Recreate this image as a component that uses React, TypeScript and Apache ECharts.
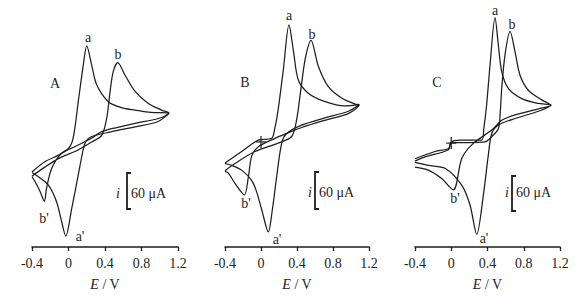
import React, { useEffect, useRef } from "react";
import * as echarts from "echarts";

// Potential ticks (V)
const xTicks = [-0.4, 0, 0.4, 0.8, 1.2];

// Panel A — [E (V), i (µA)], closed loops
const A_curveA: [number, number][] = [
  [-0.4, -48], [-0.26, -31], [-0.11, -20], [0.0, -9], [0.04, 2], [0.07, 25], [0.107, 69], [0.162, 130], [0.2, 162],
  [0.254, 130], [0.309, 97], [0.436, 69], [0.58, 59], [0.729, 55], [0.9, 51], [1.1, 50],
  [0.984, 36], [0.729, 27], [0.473, 19], [0.254, 11], [0.19, 3], [0.162, -10], [0.107, -53], [0.035, -109], [-0.03, -155],
  [-0.075, -131], [-0.13, -98], [-0.22, -70], [-0.33, -56], [-0.4, -49],
];
const A_curveB: [number, number][] = [
  [-0.4, -55], [-0.26, -40], [-0.1, -25], [0.07, -14], [0.254, 2], [0.364, 13], [0.418, 41], [0.455, 85], [0.49, 119], [0.54, 134],
  [0.62, 113], [0.73, 86], [0.875, 66], [1.02, 55], [1.1, 50],
  [0.984, 41], [0.729, 33], [0.473, 24], [0.35, 18], [0.25, 8], [0.07, -6], [-0.075, -17], [-0.184, -42], [-0.24, -75], [-0.265, -97],
  [-0.31, -81], [-0.367, -64], [-0.4, -56],
];

// Panel B
const B_curveA: [number, number][] = [
  [-0.4, -35], [-0.215, -16], [-0.03, 3], [0.118, 6], [0.15, 20], [0.19, 53], [0.248, 120], [0.311, 195],
  [0.359, 153], [0.415, 103], [0.526, 81], [0.711, 67], [0.933, 60], [1.09, 62],
  [0.97, 51], [0.711, 40], [0.452, 28], [0.285, 14], [0.23, -2], [0.174, -58], [0.126, -113], [0.081, -150],
  [0.008, -113], [-0.085, -69], [-0.215, -47], [-0.344, -38], [-0.4, -36],
];
const B_curveB: [number, number][] = [
  [-0.4, -48], [-0.29, -36], [-0.067, -16], [0.19, -2], [0.341, 9], [0.396, 37], [0.452, 98], [0.496, 142], [0.556, 169],
  [0.637, 126], [0.748, 92], [0.896, 73], [1.044, 63], [1.09, 62],
  [0.97, 47], [0.711, 36], [0.452, 24], [0.3, 15], [0.156, 6], [-0.03, -8], [-0.104, -24], [-0.14, -58], [-0.185, -88],
  [-0.289, -69], [-0.363, -52], [-0.4, -49],
];

// Panel C
const C_curveA: [number, number][] = [
  [-0.4, -26], [-0.18, -14], [-0.03, -9], [0.0, 2], [0.1, 5], [0.336, 5], [0.36, 25], [0.39, 63], [0.428, 130], [0.483, 209],
  [0.52, 163], [0.557, 119], [0.63, 91], [0.778, 74], [0.961, 66], [1.1, 63],
  [0.961, 53], [0.704, 41], [0.52, 30], [0.447, 16], [0.409, -20], [0.354, -87], [0.281, -152],
  [0.207, -103], [0.115, -70], [-0.069, -42], [-0.253, -37], [-0.4, -32],
];
const C_curveB: [number, number][] = [
  [-0.4, -30], [-0.29, -23], [-0.03, -11], [0.0, 1], [0.2, 1], [0.373, 2], [0.447, 11], [0.52, 24], [0.54, 50], [0.557, 91],
  [0.593, 147], [0.649, 186], [0.704, 152], [0.759, 113], [0.85, 88], [0.998, 72], [1.1, 63],
  [0.961, 57], [0.704, 47], [0.557, 38], [0.464, 24], [0.226, -3], [0.115, -26], [0.023, -78],
  [-0.106, -59], [-0.253, -45], [-0.4, -40],
];

const panelLetters = ["A", "B", "C"];
const peakLabels = ["a", "b", "a'", "b'"];
const scaleText = "60 μA";

const FONT = '"Liberation Serif", "Times New Roman", serif';
const INK = "#1e1e1e";

export default function App() {
  const ref = useRef<HTMLDivElement>(null);
  useEffect(() => {
    const chart = echarts.init(ref.current!, null, { renderer: "svg" });

    const grids = [
      { left: 32, width: 146, top: 5, height: 242 },
      { left: 225, width: 144, top: 5, height: 242 },
      { left: 415, width: 145, top: 5, height: 242 },
    ];
    const yRanges = [
      [-173, 230],
      [-175, 228],
      [-173, 230],
    ];

    const xAxes = grids.map((_, i) => ({
      type: "value",
      gridIndex: i,
      min: xTicks[0],
      max: xTicks[xTicks.length - 1],
      interval: 0.4,
      name: "{e|E} / V",
      nameLocation: "middle",
      nameGap: 30,
      nameTextStyle: {
        fontFamily: FONT,
        fontSize: 14,
        color: INK,
        rich: { e: { fontStyle: "italic", fontFamily: FONT, fontSize: 14, color: INK } },
      },
      axisLine: { show: true, onZero: false, lineStyle: { color: INK, width: 1.5 } },
      axisTick: { show: true, inside: false, length: 4, lineStyle: { color: INK, width: 1.3 } },
      axisLabel: {
        margin: 9,
        fontFamily: FONT,
        fontSize: 14,
        color: INK,
        formatter: (v: number) => (Math.abs(v) < 1e-9 ? "0" : v.toFixed(1)),
      },
      splitLine: { show: false },
    }));

    const yAxes = grids.map((_, i) => ({
      type: "value",
      gridIndex: i,
      min: yRanges[i][0],
      max: yRanges[i][1],
      show: false,
      splitLine: { show: false },
    }));

    const curves = [A_curveA, A_curveB, B_curveA, B_curveB, C_curveA, C_curveB];
    const series = curves.map((d, k) => ({
      type: "line",
      xAxisIndex: Math.floor(k / 2),
      yAxisIndex: Math.floor(k / 2),
      data: d,
      showSymbol: false,
      symbol: "none",
      smooth: 0.3,
      lineStyle: { color: INK, width: 1.25 },
      silent: true,
    }));

    const txt = (text: string, x: number, y: number, extra: any = {}) => ({
      type: "text",
      x,
      y,
      silent: true,
      style: {
        text,
        font: `14px ${FONT}`,
        fill: INK,
        textAlign: "center",
        textVerticalAlign: "middle",
        ...extra,
      },
    });

    const scaleBar = (ix: number, bx: number, tx: number, y1: number, y2: number, ty: number) => [
      txt("i", ix, ty, { font: `italic 14px ${FONT}` }),
      {
        type: "polyline",
        silent: true,
        shape: { points: [[bx + 4, y1], [bx, y1], [bx, y2], [bx + 4, y2]] },
        style: { stroke: INK, lineWidth: 1.8, fill: "none" },
      },
      txt(scaleText, tx, ty, { textAlign: "left" }),
    ];

    const graphics: any[] = [
      // Panel A
      txt(panelLetters[0], 55, 83),
      txt(peakLabels[0], 88, 37),
      txt(peakLabels[1], 118, 54),
      txt(peakLabels[2], 80, 236),
      txt(peakLabels[3], 44, 218),
      ...scaleBar(118, 127, 131, 173, 209, 193),
      // Panel B
      txt(panelLetters[1], 245, 82),
      txt(peakLabels[0], 289, 15),
      txt(peakLabels[1], 312, 34),
      txt(peakLabels[2], 277, 239),
      txt(peakLabels[3], 246, 203),
      ...scaleBar(310, 315, 319, 172, 209, 192),
      // Panel C
      txt(panelLetters[2], 437, 82),
      txt(peakLabels[0], 495, 10),
      txt(peakLabels[1], 512, 24),
      txt(peakLabels[2], 484, 238),
      txt(peakLabels[3], 455, 198),
      ...scaleBar(507, 512, 516, 176, 211, 192),
    ];

    chart.setOption({
      animation: false,
      backgroundColor: "#ffffff",
      grid: grids.map((g) => ({ ...g, containLabel: false, outerBoundsMode: "none" })),
      xAxis: xAxes,
      yAxis: yAxes,
      series,
      graphic: graphics,
    } as any);

    // Origin crosses in panels B and C
    const crosses: any[] = [];
    [1, 2].forEach((gi) => {
      const p = chart.convertToPixel({ gridIndex: gi }, [0, 0]) as number[];
      if (p) {
        crosses.push(
          { type: "line", silent: true, shape: { x1: p[0] - 5, y1: p[1], x2: p[0] + 5, y2: p[1] }, style: { stroke: INK, lineWidth: 1.2 } },
          { type: "line", silent: true, shape: { x1: p[0], y1: p[1] - 6, x2: p[0], y2: p[1] + 6 }, style: { stroke: INK, lineWidth: 1.2 } }
        );
      }
    });
    chart.setOption({ graphic: [...graphics, ...crosses] } as any);

    return () => chart.dispose();
  }, []);
  return <div ref={ref} style={{ position: "fixed", left: 0, top: 0, width: 579, height: 298 }} />;
}
